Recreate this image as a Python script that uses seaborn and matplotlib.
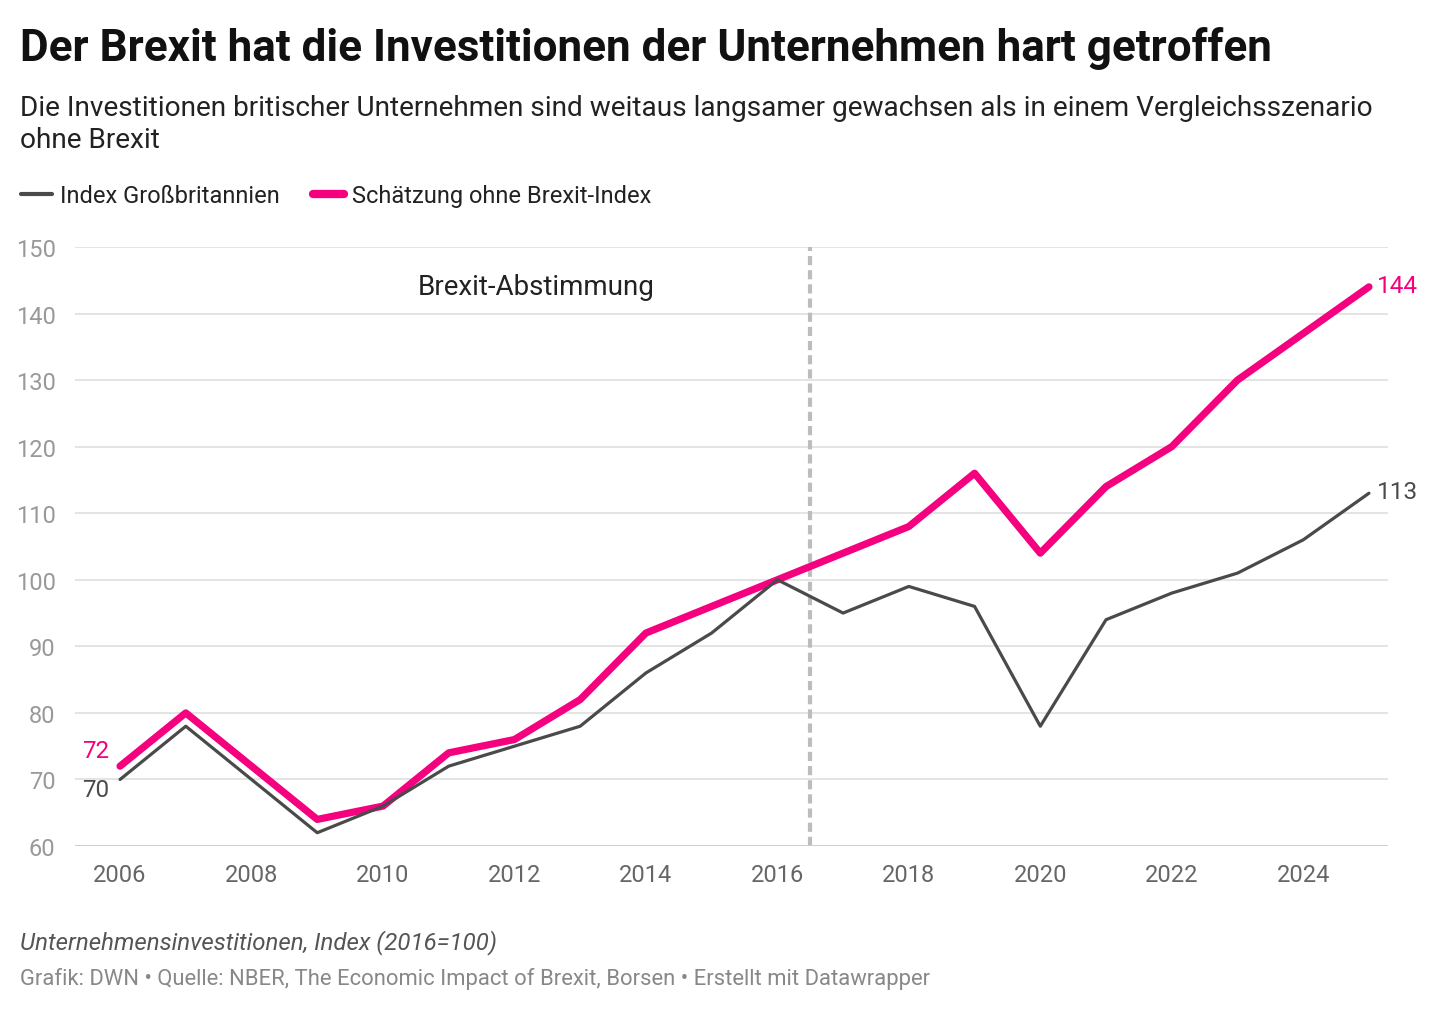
import pandas as pd
import matplotlib.pyplot as plt
import seaborn as sns
from matplotlib.lines import Line2D

sns.set_theme(style="white")
plt.rcParams['font.family'] = ['Roboto', 'DejaVu Sans']

# Data
years = list(range(2006, 2026))
index_gb = [70, 78, 70, 62, 66, 72, 75, 78, 86, 92, 100, 95, 99, 96, 78, 94, 98, 101, 106, 113]
ohne_brexit = [72, 80, 72, 64, 66, 74, 76, 82, 92, 96, 100, 104, 108, 116, 104, 114, 120, 130, 137, 144]
series_names = ['Index Großbritannien', 'Schätzung ohne Brexit-Index']
brexit_vote = 2016.5

grey = '#4a4a4a'
pink = '#f5007f'
tick_grey = '#999999'

df = pd.DataFrame({'Jahr': years, series_names[0]: index_gb, series_names[1]: ohne_brexit})
long_df = df.melt(id_vars='Jahr', var_name='Reihe', value_name='Wert')

fig = plt.figure(figsize=(14.4, 10.12), dpi=100)
ax = fig.add_axes([0.0521, 0.163, 0.9118, 0.592])

# grid lines
for v in range(60, 151, 10):
    ax.axhline(v, color='#e2e2e2', lw=1.3, zorder=0)

ax.axvline(brexit_vote, color='#bdbdbd', lw=3, ls=(0, (2.2, 1.2)), zorder=1)

sns.lineplot(data=long_df, x='Jahr', y='Wert', hue='Reihe', ax=ax,
             palette={series_names[0]: grey, series_names[1]: pink}, legend=False)
for ln in ax.get_lines():
    if ln.get_color() == pink:
        ln.set_linewidth(5.2)
        ln.set_solid_capstyle('round')
        ln.set_zorder(3)
    elif ln.get_color() == grey:
        ln.set_linewidth(2.3)
        ln.set_zorder(4)

ax.set_xlim(2005.315, 2025.29)
ax.set_ylim(60, 150)
ax.set_xticks(list(range(2006, 2025, 2)))
ax.set_yticks(list(range(60, 151, 10)))
ax.tick_params(axis='x', labelsize=17, length=0, pad=12.5)
ax.tick_params(axis='y', labelsize=17, length=0, pad=14)
for lab in ax.get_xticklabels():
    lab.set_color('#666666')
for lab in ax.get_yticklabels():
    lab.set_color(tick_grey)
ax.set_xlabel('')
ax.set_ylabel('')
sns.despine(ax=ax, left=True, bottom=True, top=True, right=True)
ax.axhline(60, color='#cccccc', lw=1.3, zorder=2)

# end labels
ax.annotate(str(ohne_brexit[0]), (years[0], ohne_brexit[0]), xytext=(-8, 11),
            textcoords='offset points', ha='right', va='center', color=pink, fontsize=17.5)
ax.annotate(str(index_gb[0]), (years[0], index_gb[0]), xytext=(-8, -7),
            textcoords='offset points', ha='right', va='center', color=grey, fontsize=17.5)
ax.annotate(str(ohne_brexit[-1]), (years[-1], ohne_brexit[-1]), xytext=(6, 1),
            textcoords='offset points', ha='left', va='center', color=pink, fontsize=17.5)
ax.annotate(str(index_gb[-1]), (years[-1], index_gb[-1]), xytext=(6, 1),
            textcoords='offset points', ha='left', va='center', color=grey, fontsize=17.5)

ax.text(2012.33, 144, 'Brexit-Abstimmung', ha='center', va='center', fontsize=20, color='#222222')

# titles
fig.text(0.014, 0.952, 'Der Brexit hat die Investitionen der Unternehmen hart getroffen',
         fontsize=31.7, fontweight='bold', color='#111111', va='center')
fig.text(0.014, 0.877, 'Die Investitionen britischer Unternehmen sind weitaus langsamer gewachsen als in einem Vergleichsszenario\nohne Brexit',
         fontsize=20.2, color='#222222', va='center', linespacing=1.26)

# legend
handles = [Line2D([], [], color=grey, lw=3), Line2D([], [], color=pink, lw=6, solid_capstyle='round')]
fig.legend(handles, series_names, loc='center left', bbox_to_anchor=(0.0, 0.806), ncol=2,
           frameon=False, fontsize=17, handlelength=1.3, handletextpad=0.35, columnspacing=1.4,
           labelcolor='#222222')

# footer
fig.text(0.014, 0.069, 'Unternehmensinvestitionen, Index (2016=100)', fontsize=17.3, style='italic',
         color='#555555', va='center')
fig.text(0.014, 0.033, 'Grafik: DWN • Quelle: NBER, The Economic Impact of Brexit, Borsen • Erstellt mit Datawrapper',
         fontsize=15.8, color='#888888', va='center')

fig.savefig('out.png', dpi=100, facecolor='white')
